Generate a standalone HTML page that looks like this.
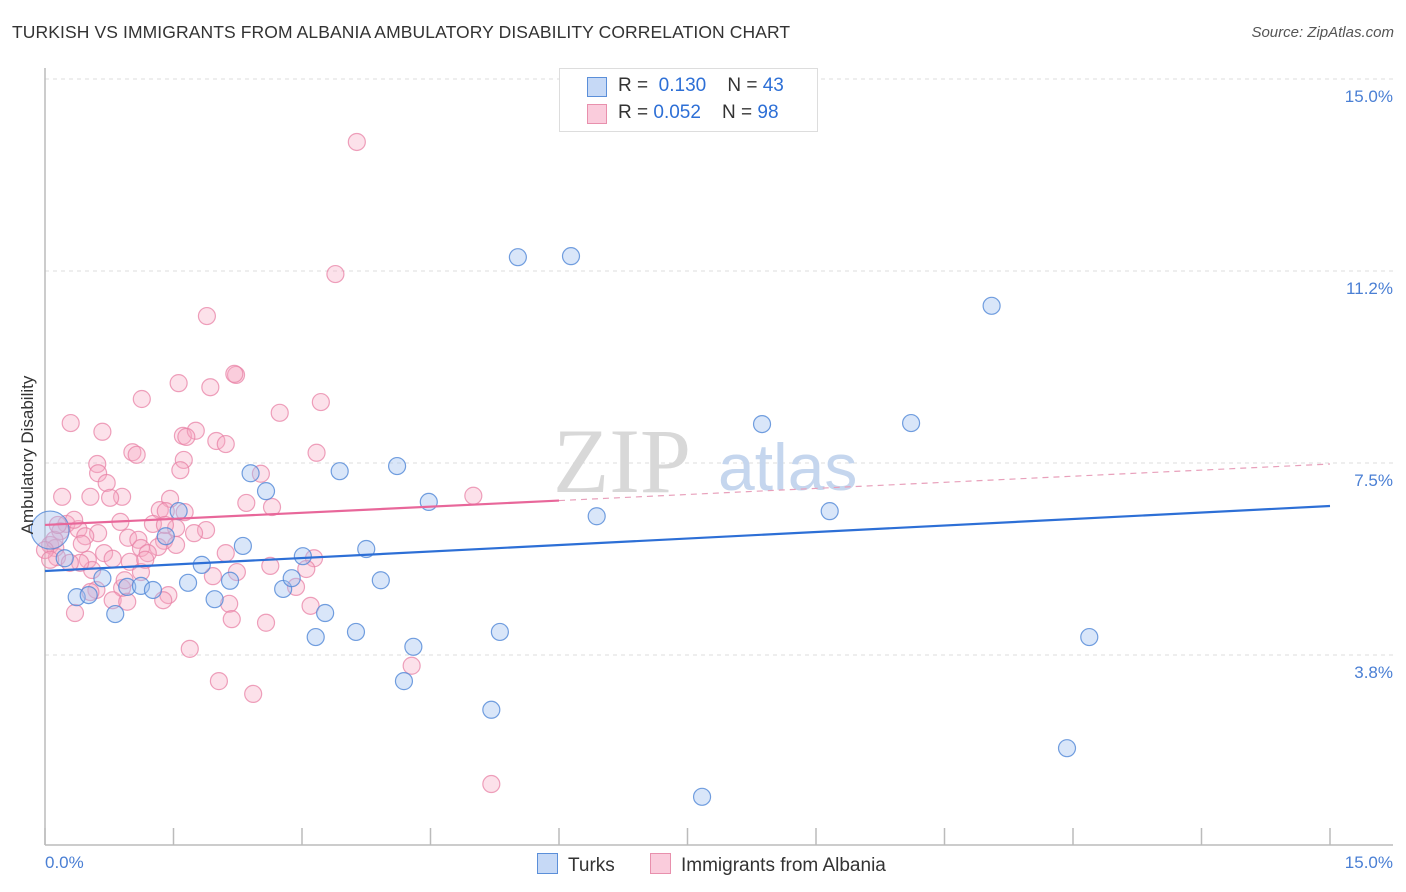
<!DOCTYPE html>
<html><head><meta charset="utf-8"><style>
body{margin:0;background:#fff;font-family:"Liberation Sans",sans-serif;}
#wrap{position:relative;width:1406px;height:892px;overflow:hidden;}
</style></head><body>
<div id="wrap">
<div style="position:absolute;left:12px;top:22px;font-size:17.5px;color:#333;letter-spacing:0.1px">TURKISH VS IMMIGRANTS FROM ALBANIA AMBULATORY DISABILITY CORRELATION CHART</div>
<div style="position:absolute;right:12px;top:24px;font-size:15px;color:#555;font-style:italic">Source: ZipAtlas.com</div>
<svg id="plot" width="1406" height="892" style="position:absolute;left:0;top:0"></svg>
</div>
<script>
const blueX=[0.06,0.23,0.37,0.51,0.67,0.82,0.96,1.12,1.26,1.41,1.56,1.67,1.83,1.98,2.16,2.31,2.40,2.58,2.78,2.88,3.01,3.16,3.27,3.44,3.63,3.75,3.92,4.11,4.19,4.30,4.48,5.21,5.31,5.52,6.14,6.44,7.67,8.37,9.16,10.11,11.05,11.93,12.19];
const blueY=[6.19,5.64,4.88,4.92,5.25,4.55,5.08,5.10,5.02,6.07,6.56,5.16,5.51,4.84,5.20,5.88,7.30,6.95,5.04,5.25,5.68,4.10,4.57,7.34,4.20,5.82,5.21,7.44,3.24,3.91,6.74,2.68,4.20,11.52,11.54,6.46,0.98,8.26,6.56,8.28,10.57,1.93,4.10];
const pinkX=[3.64,3.39,1.89,2.23,2.21,1.56,1.93,1.13,3.22,2.74,0.30,0.67,1.61,1.76,1.65,2.00,2.11,1.02,1.07,3.17,1.62,0.61,0.62,2.52,0.72,0.20,0.53,0.90,0.76,1.46,2.35,5.00,2.65,1.34,1.41,1.63,0.88,0.25,0.39,1.26,1.53,1.88,0.18,0.62,0.47,0.97,1.09,1.39,1.74,0.43,0.06,0.12,1.12,1.32,1.53,1.20,0.69,0.14,2.11,0.50,0.79,0.99,0.55,2.63,3.14,3.05,0.41,0.29,2.24,1.96,1.12,0.90,2.93,0.60,0.53,1.44,0.79,0.96,1.38,3.10,2.15,0.35,2.18,2.58,1.69,2.03,2.43,4.28,5.21,0.11,0.0,0.06,0.15,0.93,1.17,1.40,1.58,0.34];
const pinkY=[13.77,11.19,10.37,9.22,9.24,9.06,8.98,8.75,8.69,8.48,8.28,8.11,8.03,8.13,8.01,7.93,7.87,7.71,7.66,7.70,7.56,7.48,7.30,7.29,7.11,6.84,6.84,6.84,6.82,6.80,6.72,6.86,6.64,6.58,6.56,6.54,6.35,6.31,6.21,6.31,6.23,6.19,6.17,6.13,6.07,6.04,6.00,5.98,6.13,5.92,5.90,5.84,5.84,5.86,5.90,5.74,5.74,5.66,5.74,5.61,5.63,5.57,5.41,5.49,5.64,5.43,5.55,5.55,5.37,5.29,5.37,5.06,5.08,5.02,4.98,4.92,4.82,4.79,4.82,4.71,4.75,4.57,4.45,4.38,3.87,3.24,2.99,3.54,1.23,6.00,5.80,5.61,6.29,5.21,5.61,6.29,7.36,6.39];
const yTicks=[15.0,11.25,7.5,3.75];
const yTickLabels=["15.0%","11.2%","7.5%","3.8%"];
const blueTrend=[5.39,6.66];
const pinkTrend=[6.29,7.48];
const pinkSolidEnd=6.0;

const NS="http://www.w3.org/2000/svg";
const svg=document.getElementById('plot');
const X0=45,X1=1330,Y0=847,YS=51.2;
function sx(v){return X0+(X1-X0)*v/15;}
function sy(v){return Y0-v*YS;}
function mk(t,a){const e=document.createElementNS(NS,t);for(const k in a)e.setAttribute(k,a[k]);svg.appendChild(e);return e;}

// gridlines
yTicks.forEach((t,i)=>{
  const g=mk('line',{x1:45,x2:1393,y1:sy(t),y2:sy(t),stroke:'#ddd','stroke-dasharray':'4,4','stroke-width':1});
  
  
  const tx=mk('text',{x:1393,y:sy(t)+23,'text-anchor':'end','font-size':17,fill:'#4a7fd4','font-family':'Liberation Sans, sans-serif'});
  tx.textContent=yTickLabels[i];
  
  
});
// axes
let ax=mk('line',{x1:45,x2:45,y1:68,y2:845,stroke:'#bbb','stroke-width':1.5});


ax=mk('line',{x1:45,x2:1393,y1:845,y2:845,stroke:'#bbb','stroke-width':1.5});


for(let i=0;i<=10;i++){
  const v=i*1.5;
  const tk=mk('line',{x1:sx(v),x2:sx(v),y1:828,y2:845,stroke:'#bbb','stroke-width':1.5});
  
  
}
// watermark
let wm=mk('text',{x:553,y:492,'font-size':92,fill:'#d8d8d8','font-family':'Liberation Serif, serif'});
wm.textContent='ZIP';


wm=mk('text',{x:718,y:490,'font-size':66,fill:'#c5d6ee','font-family':'Liberation Sans, sans-serif'});
wm.textContent='atlas';



// points
pinkX.forEach((x,i)=>{
  const c=mk('circle',{cx:sx(x),cy:sy(pinkY[i]),r:8.5,fill:'rgba(246,170,196,0.35)',stroke:'rgba(232,130,165,0.75)','stroke-width':1.2});
  
  
});
blueX.forEach((x,i)=>{
  const c=mk('circle',{cx:sx(x),cy:sy(blueY[i]),r:i===0?19:8.5,fill:'rgba(160,192,240,0.4)',stroke:'rgba(80,135,215,0.8)','stroke-width':1.2});
  
  
});
// trends
let tl=mk('line',{x1:sx(0),y1:sy(blueTrend[0]),x2:sx(15),y2:sy(blueTrend[1]),stroke:'#2d6fd6','stroke-width':2.2});


const pAt=v=>pinkTrend[0]+(pinkTrend[1]-pinkTrend[0])*v/15;
tl=mk('line',{x1:sx(0),y1:sy(pinkTrend[0]),x2:sx(pinkSolidEnd),y2:sy(pAt(pinkSolidEnd)),stroke:'#e8679a','stroke-width':2.2});


tl=mk('line',{x1:sx(pinkSolidEnd),y1:sy(pAt(pinkSolidEnd)),x2:sx(15),y2:sy(pinkTrend[1]),stroke:'#e8a0bb','stroke-width':1.2,'stroke-dasharray':'6,5'});


</script>
<div style="position:absolute;left:28px;top:455px;transform:translate(-50%,-50%) rotate(-90deg);font-size:17px;color:#333;white-space:nowrap">Ambulatory Disability</div>
<div style="position:absolute;left:45px;top:853px;font-size:17px;color:#4a7fd4">0.0%</div>
<div style="position:absolute;right:13px;top:853px;font-size:17px;color:#4a7fd4">15.0%</div>
<div style="position:absolute;left:559px;top:68px;width:257px;height:62px;border:1px solid #ddd;background:#fff;font-size:19px;color:#333">
 <div style="position:absolute;left:27px;top:8px;width:18px;height:18px;background:rgba(160,192,240,0.6);border:1px solid #5b8fd9"></div>
 <div style="position:absolute;left:58px;top:6px">R = &nbsp;<span style="color:#2d6fd6">0.130</span>&nbsp;&nbsp;&nbsp; N = <span style="color:#2d6fd6">43</span></div>
 <div style="position:absolute;left:27px;top:35px;width:18px;height:18px;background:rgba(246,170,196,0.6);border:1px solid #e890ad"></div>
 <div style="position:absolute;left:58px;top:33px">R = <span style="color:#2d6fd6">0.052</span>&nbsp;&nbsp;&nbsp; N = <span style="color:#2d6fd6">98</span></div>
</div>
<div style="position:absolute;left:537px;top:853px;font-size:19px;color:#333">
 <span style="display:inline-block;width:19px;height:19px;background:rgba(160,192,240,0.6);border:1px solid #5b8fd9;vertical-align:-3px;margin-right:10px"></span>Turks</div>
<div style="position:absolute;left:650px;top:853px;font-size:19px;color:#333">
 <span style="display:inline-block;width:19px;height:19px;background:rgba(246,170,196,0.6);border:1px solid #e890ad;vertical-align:-3px;margin-right:10px"></span>Immigrants from Albania</div>
</body></html>
